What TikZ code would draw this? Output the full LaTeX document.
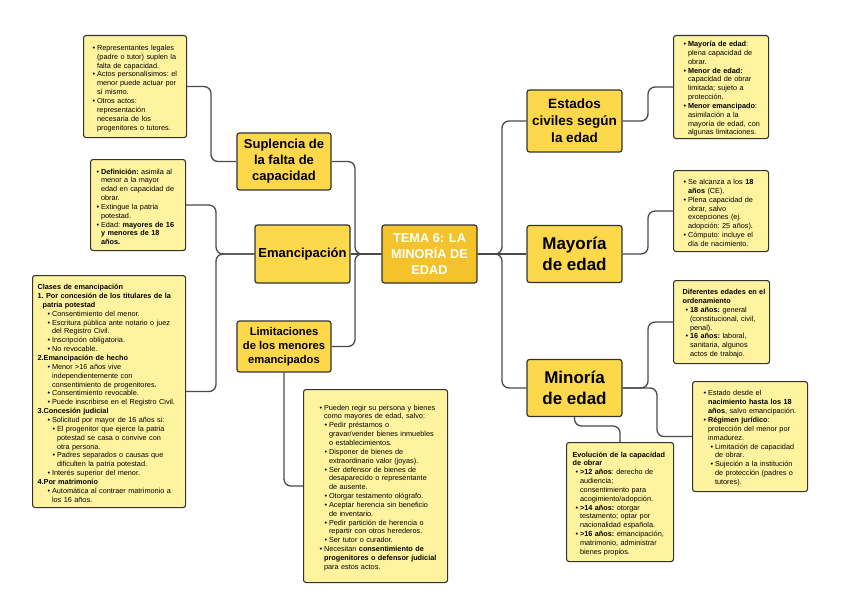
\documentclass[tikz,border=0pt]{standalone}
\usepackage{fontspec}
\setmainfont{Liberation Sans}
\definecolor{mainY}{HTML}{FDD84B}
\definecolor{centY}{HTML}{F4C22B}
\definecolor{noteY}{HTML}{FFF3A0}
\definecolor{edgeC}{HTML}{333333}
\definecolor{lineC}{HTML}{4A4A4A}
\newcommand{\npad}[1]{\frenchspacing\raggedright\leftskip=\dimexpr#1-1pt\relax}
\newcommand{\nbul}[2][0pt]{\par\noindent\hangindent=\dimexpr#1+4.5pt\relax\hangafter=1\hspace*{#1}\makebox[4.5pt][l]{\textbullet}#2}
\newcommand{\nhead}[2][0pt]{\par\noindent\hangindent=#1\hangafter=1 #2}
\tikzset{
  mainbox/.style={draw=edgeC, line width=1.2pt, rounded corners=2.5pt, fill=mainY, align=center, inner sep=0pt},
  notebox/.style={draw=edgeC, line width=1.1pt, rounded corners=2.5pt, fill=noteY, inner xsep=1pt, inner ysep=0pt, anchor=north west, font=\fontsize{7.3}{8.85}\selectfont},
  conn/.style={draw=lineC, line width=1.3pt, rounded corners=7pt},
}
\begin{document}
\begin{tikzpicture}[x=1pt, y=-1pt]
\useasboundingbox (0,0) rectangle (848,615);
\fill[white] (0,0) rectangle (848,615);

% main nodes
\node[mainbox, fill=centY, text=white, minimum width=95pt, minimum height=58pt, font=\bfseries\fontsize{12.8}{16}\selectfont] (cen) at (429.5,254) {TEMA 6: LA\\MINORÍA DE\\EDAD};
\node[mainbox, minimum width=94pt, minimum height=57pt, font=\bfseries\fontsize{13}{16}\selectfont] (sup) at (284,161.5) {Suplencia de\\la falta de\\capacidad};
\node[mainbox, minimum width=95pt, minimum height=58pt, font=\bfseries\fontsize{13}{16}\selectfont] (ema) at (302.5,254) {Emancipación};
\node[mainbox, minimum width=94pt, minimum height=51pt, font=\bfseries\fontsize{11.2}{14}\selectfont] (lim) at (284,346.5) {Limitaciones\\de los menores\\emancipados};
\node[mainbox, minimum width=95pt, minimum height=62pt, font=\bfseries\fontsize{13.5}{17}\selectfont] (est) at (574.5,121) {Estados\\civiles según\\la edad};
\node[mainbox, minimum width=95pt, minimum height=57pt, font=\bfseries\fontsize{17}{21}\selectfont] (may) at (574.5,254) {Mayoría\\de edad};
\node[mainbox, minimum width=95pt, minimum height=57pt, font=\bfseries\fontsize{17}{21}\selectfont] (min) at (574.5,388) {Minoría\\de edad};

% notes
\node[notebox, minimum width=103pt, minimum height=102pt, text width=101pt] (n1) at (83,35) {\npad{9pt}%
\nbul{Representantes legales\newline (padre o tutor) suplen la\newline falta de capacidad.}
\nbul{Actos personalísimos: el\newline menor puede actuar por\newline sí mismo.}
\nbul{Otros actos:\newline representación\newline necesaria de los\newline progenitores o tutores.}\par};

\node[notebox, minimum width=95pt, minimum height=91pt, text width=93pt] (n2) at (90,159) {\npad{6pt}%
\nbul{\textbf{Definición:} asimila al\newline menor a la mayor\newline edad en capacidad de\newline obrar.}
\nbul{Extingue la patria\newline potestad.}
\nbul{Edad: \textbf{mayores de 16\newline y menores de 18\newline años.}}\par};

\node[notebox, minimum width=153pt, minimum height=232pt, text width=151pt] (n3) at (32,275) {\npad{5pt}%
\nhead{\textbf{Clases de emancipación}}
\nhead[5pt]{\textbf{1. Por concesión de los titulares de la\newline patria potestad}}
\nbul[10pt]{Consentimiento del menor.}
\nbul[10pt]{Escritura pública ante notario o juez\newline del Registro Civil.}
\nbul[10pt]{Inscripción obligatoria.}
\nbul[10pt]{No revocable.}
\nhead{\textbf{2.Emancipación de hecho}}
\nbul[10pt]{Menor >16 años vive\newline independientemente con\newline consentimiento de progenitores.}
\nbul[10pt]{Consentimiento revocable.}
\nbul[10pt]{Puede inscribirse en el Registro Civil.}
\nhead{\textbf{3.Concesión judicial}}
\nbul[10pt]{Solicitud por mayor de 16 años si:}
\nbul[15pt]{El progenitor que ejerce la patria\newline potestad se casa o convive con\newline otra persona.}
\nbul[15pt]{Padres separados o causas que\newline dificulten la patria potestad.}
\nbul[10pt]{Interés superior del menor.}
\nhead{\textbf{4.Por matrimonio}}
\nbul[10pt]{Automática al contraer matrimonio a\newline los 16 años.}\par};

\node[notebox, minimum width=144pt, minimum height=193pt, text width=142pt] (n4) at (303,389) {\npad{16pt}%
\nbul{Pueden regir su persona y bienes\newline como mayores de edad, salvo:}
\nbul[5pt]{Pedir préstamos o\newline gravar/vender bienes inmuebles\newline o establecimientos.}
\nbul[5pt]{Disponer de bienes de\newline extraordinario valor (joyas).}
\nbul[5pt]{Ser defensor de bienes de\newline desaparecido o representante\newline de ausente.}
\nbul[5pt]{Otorgar testamento ológrafo.}
\nbul[5pt]{Aceptar herencia sin beneficio\newline de inventario.}
\nbul[5pt]{Pedir partición de herencia o\newline repartir con otros herederos.}
\nbul[5pt]{Ser tutor o curador.}
\nbul{Necesitan \textbf{consentimiento de\newline progenitores o defensor judicial}\newline para estos actos.}\par};

\node[notebox, minimum width=95pt, minimum height=103pt, text width=93pt] (n7) at (673,35) {\npad{10pt}%
\nbul{\textbf{Mayoría de edad}:\newline plena capacidad de\newline obrar.}
\nbul{\textbf{Menor de edad:}\newline capacidad de obrar\newline limitada; sujeto a\newline protección.}
\nbul{\textbf{Menor emancipado}:\newline asimilación a la\newline mayoría de edad, con\newline algunas limitaciones.}\par};

\node[notebox, minimum width=95pt, minimum height=81pt, text width=93pt] (n8) at (673,170) {\npad{10pt}%
\nbul{Se alcanza a los \textbf{18\newline años} (CE).}
\nbul{Plena capacidad de\newline obrar, salvo\newline excepciones (ej.\newline adopción: 25 años).}
\nbul{Cómputo: incluye el\newline día de nacimiento.}\par};

\node[notebox, minimum width=96pt, minimum height=83pt, text width=94pt] (n9) at (673,280) {\npad{9pt}%
\nhead{\textbf{Diferentes edades en el\newline ordenamiento}}
\nbul[3pt]{\textbf{18 años:} general\newline (constitucional, civil,\newline penal).}
\nbul[3pt]{\textbf{16 años:} laboral,\newline sanitaria, algunos\newline actos de trabajo.}\par};

\node[notebox, minimum width=115pt, minimum height=110pt, text width=113pt] (n10) at (692,381) {\npad{11pt}%
\nbul{Estado desde el\newline \textbf{nacimiento hasta los 18\newline años}, salvo emancipación.}
\nbul{\textbf{Régimen jurídico}:\newline protección del menor por\newline inmadurez.}
\nbul[7pt]{Limitación de capacidad\newline de obrar.}
\nbul[7pt]{Sujeción a la institución\newline de protección (padres o\newline tutores).}\par};

\node[notebox, minimum width=107pt, minimum height=119pt, text width=105pt] (n11) at (566,442) {\npad{6pt}%
\nhead{\textbf{Evolución de la capacidad\newline de obrar}}
\nbul[3pt]{\textbf{>12 años}: derecho de\newline audiencia;\newline consentimiento para\newline acogimiento/adopción.}
\nbul[3pt]{\textbf{>14 años:} otorgar\newline testamento; optar por\newline nacionalidad española.}
\nbul[3pt]{\textbf{>16 años:} emancipación,\newline matrimonio, administrar\newline bienes propios.}\par};

% junction coordinates
\coordinate (jl) at (355,254);
\coordinate (jr) at (502,254);
\coordinate (j1) at (211,0);
\coordinate (j2) at (216,0);
\coordinate (j7) at (648,0);
\coordinate (j9) at (648,0);
\coordinate (j10) at (657,0);
\coordinate (jb) at (0,426);

% connectors
\draw[conn] (sup.east) -- (sup.east -| jl) |- (cen.west);
\draw[conn] (ema.east) -- (cen.west);
\draw[conn] (lim.east) -- (lim.east -| jl) |- (cen.west);
\draw[conn] (cen.east) -- (jr) |- (est.west);
\draw[conn] (cen.east) -- (may.west);
\draw[conn] (cen.east) -- (jr) |- (min.west);

\draw[conn] (n1.east) -- (n1.east -| j1) |- (sup.west);
\draw[conn] (n2.east) -- (n2.east -| j2) |- (ema.west);
\draw[conn] (n3.east) -- (n3.east -| j2) |- (ema.west);
\draw[conn] (lim.south) |- (n4.west);

\draw[conn] (est.east) -- (est.east -| j7) |- (n7.west);
\draw[conn] (may.east) -- (may.east -| j7) |- (n8.west);
\draw[conn] (min.east) -- (min.east -| j9) |- (n9.west);
\draw[conn] (min.east) -- (min.east -| j10) |- (n10.west);
\draw[conn] (min.south) -- (min.south |- jb) -- (n11.north |- jb) -- (n11.north);
\end{tikzpicture}
\end{document}
